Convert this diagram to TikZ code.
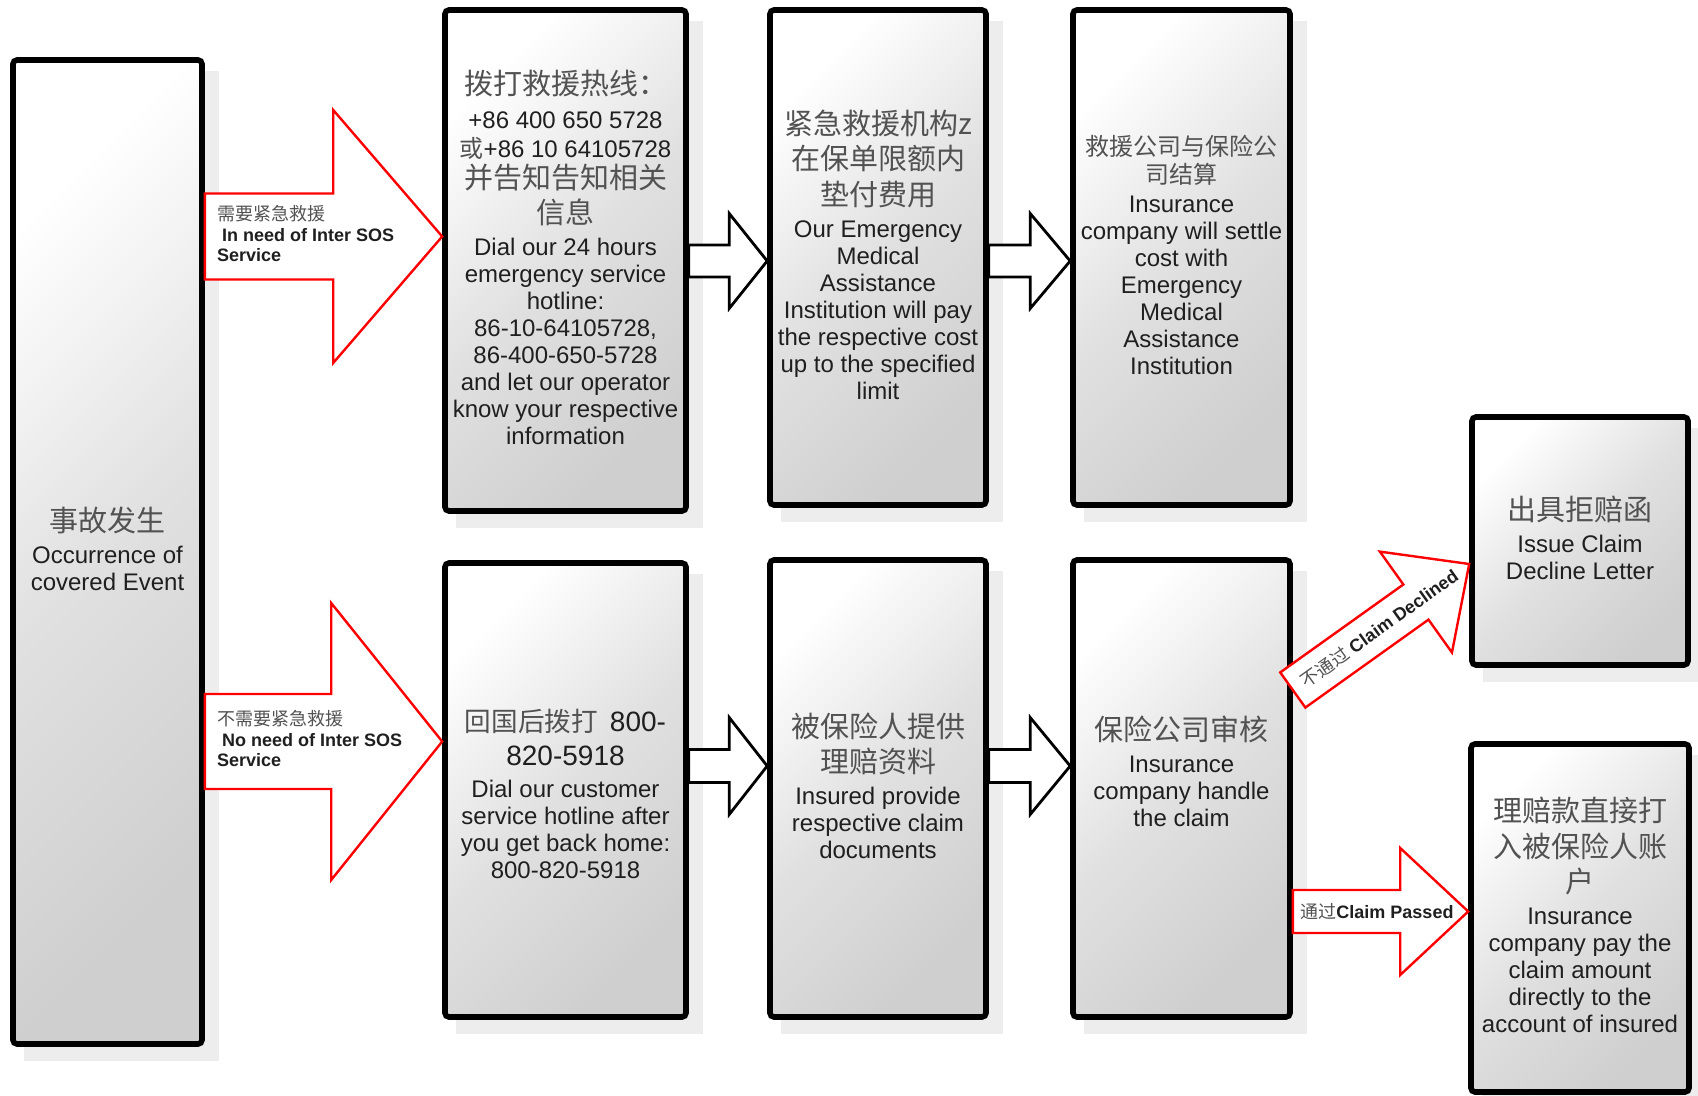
\documentclass[tikz,border=0pt]{standalone}
\usepackage{fontspec}
\setmainfont{Liberation Sans}
\newfontfamily\cjk{Noto Sans CJK SC}
\usetikzlibrary{calc,backgrounds}

\definecolor{zhc}{gray}{0.32}
\definecolor{enc}{gray}{0.12}
\definecolor{shc}{gray}{0.93}

\newcommand\stk[1]{\vbox{\offinterlineskip\halign{\hfil##\hfil\cr#1\crcr}}}
\newcommand\lstk[1]{\vbox{\offinterlineskip\halign{##\hfil\cr#1\crcr}}}
\newcommand\Zl[1]{\vrule height 11.5pt depth 5.5pt width 0pt{\cjk\fontsize{14.5}{17}\selectfont\color{zhc}#1}}
\newcommand\Zd[1]{\vrule height 10pt depth 4pt width 0pt{\cjk\fontsize{12}{14}\selectfont\color{zhc}#1}}
\newcommand\Zx[1]{\vrule height 11.5pt depth 5.5pt width 0pt{\fontsize{14}{16}\selectfont\color{enc}#1}}
\newcommand\El[1]{\vrule height 10.5pt depth 3pt width 0pt{\fontsize{12}{13.5}\selectfont\color{enc}#1}}
\newcommand\Pl[1]{\vrule height 11.3pt depth 3.3pt width 0pt{\fontsize{12}{13.5}\selectfont\color{enc}#1}}
\newcommand\Rz[1]{\vrule height 7.3pt depth 3pt width 0pt{\cjk\fontsize{9}{10}\selectfont\color{zhc}#1}}
\newcommand\Rb[1]{\vrule height 7.3pt depth 3pt width 0pt{\fontsize{9}{10}\selectfont\bfseries\color{enc}#1}}

% block arrow: style, tail, tip, shaft half width, head half width, head length
\newcommand\barrow[6]{%
  \coordinate (bh) at ($(#3)!#6!(#2)$);
  \draw[#1] ($(#2)!#4!90:(#3)$) -- ($(bh)!#4!90:(#3)$) -- ($(bh)!#5!90:(#3)$) -- (#3)
    -- ($(bh)!#5!-90:(#3)$) -- ($(bh)!#4!-90:(#3)$) -- ($(#2)!#4!-90:(#3)$) -- cycle;}

\tikzset{
  box/.style={draw=black, line width=2.8pt, rounded corners=2pt, inner sep=0pt,
    top color=white, bottom color=black!19, middle color=black!12, shading angle=45},
  redarrow/.style={draw=red, fill=white, line width=1.2pt, line join=miter},
  blackarrow/.style={draw=black, fill=white, line width=1.4pt, line join=miter},
  lbl/.style={inner sep=0pt}
}

\begin{document}
\begin{tikzpicture}[x=0.5pt, y=-0.5pt]
\useasboundingbox (0,0) rectangle (1698,1096);

\node[box, minimum width=94.5pt, minimum height=492pt] (A) at (107.5,552)
  {\stk{\Zl{事故发生}\cr\El{Occurrence of}\cr\El{covered Event}}};

\node[box, minimum width=120.5pt, minimum height=250.5pt] (B) at (565.5,260.5)
  {\stk{\Zl{拨打救援热线：}\cr
        \Pl{+86 400 650 5728}\cr
        \Pl{{\cjk\color{zhc}或}+86 10 64105728}\cr
        \Zl{并告知告知相关}\cr
        \Zl{信息}\cr
        \El{Dial our 24 hours}\cr
        \El{emergency service}\cr
        \El{hotline:}\cr
        \El{86-10-64105728,}\cr
        \El{86-400-650-5728}\cr
        \El{and let our operator}\cr
        \El{know your respective}\cr
        \El{information}}};

\node[box, minimum width=108pt, minimum height=247.5pt] (C) at (878,257.5)
  {\stk{\Zl{紧急救援机构z}\cr\Zl{在保单限额内}\cr\Zl{垫付费用}\cr
        \El{Our Emergency}\cr\El{Medical}\cr\El{Assistance}\cr
        \El{Institution will pay}\cr\El{the respective cost}\cr
        \El{up to the specified}\cr\El{limit}}};

\node[box, minimum width=108.5pt, minimum height=247.5pt] (D) at (1181.5,257.5)
  {\stk{\Zd{救援公司与保险公}\cr\Zd{司结算}\cr
        \El{Insurance}\cr\El{company will settle}\cr\El{cost with}\cr
        \El{Emergency}\cr\El{Medical}\cr\El{Assistance}\cr\El{Institution}}};

\node[box, minimum width=120.5pt, minimum height=227pt] (E) at (565.5,790)
  {\stk{\vrule height 6pt width 0pt\cr
        \Zx{{\cjk\fontsize{13.3}{16}\selectfont\color{zhc}回国后拨打}\hspace{6pt}800-}\cr
        \Zx{820-5918}\cr
        \El{Dial our customer}\cr\El{service hotline after}\cr
        \El{you get back home:}\cr\El{800-820-5918}}};

\node[box, minimum width=108pt, minimum height=228.5pt] (F) at (878,788.5)
  {\stk{\Zl{被保险人提供}\cr\Zl{理赔资料}\cr
        \El{Insured provide}\cr\El{respective claim}\cr\El{documents}}};

\node[box, minimum width=108.5pt, minimum height=228.5pt] (G) at (1181.5,788.5)
  {\stk{\Zl{保险公司审核}\cr\El{Insurance}\cr\El{company handle}\cr\El{the claim}\cr
        \vrule height 14.5pt width 0pt}};

\node[box, minimum width=108pt, minimum height=124pt] (H) at (1580,541)
  {\stk{\Zl{出具拒赔函}\cr\El{Issue Claim}\cr\El{Decline Letter}}};

\node[box, minimum width=109pt, minimum height=174pt] (I) at (1580,918)
  {\stk{\Zl{理赔款直接打}\cr\Zl{入被保险人账}\cr\Zl{户}\cr
        \El{Insurance}\cr\El{company pay the}\cr\El{claim amount}\cr
        \El{directly to the}\cr\El{account of insured}}};

% connector end points
\coordinate (r1t) at (A.east |- 0,236.5);
\coordinate (r1p) at (B.west |- 0,236.5);
\coordinate (r2t) at (A.east |- 0,741.5);
\coordinate (r2p) at (E.west |- 0,741.5);
\coordinate (k1t) at (B.east |- 0,261);
\coordinate (k1p) at (C.west |- 0,261);
\coordinate (k2t) at (C.east |- 0,261);
\coordinate (k2p) at (D.west |- 0,261);
\coordinate (k3t) at (E.east |- 0,766);
\coordinate (k3p) at (F.west |- 0,766);
\coordinate (k4t) at (F.east |- 0,766);
\coordinate (k4p) at (G.west |- 0,766);
\coordinate (pt) at (G.east |- 0,911.5);
\coordinate (pp) at (I.west |- 0,911.5);
\coordinate (dt) at (G.east |- 0,690);
\coordinate (dp) at (H.west |- 0,564);

\begin{pgfonlayer}{background}
  \foreach \n in {A,B,C,D,E,F,G,H,I}
    \fill[shc] ($(\n.south west)+(14,14)$) rectangle ($(\n.north east)+(14,14)$);
  \barrow{blackarrow}{k1t}{k1p}{8pt}{23.75pt}{19pt}
  \barrow{blackarrow}{k2t}{k2p}{8pt}{23.75pt}{20pt}
  \barrow{blackarrow}{k3t}{k3p}{8.25pt}{24.25pt}{19pt}
  \barrow{blackarrow}{k4t}{k4p}{8.25pt}{24.25pt}{20pt}
\end{pgfonlayer}

% red arrows
\barrow{redarrow}{r1t}{r1p}{21.5pt}{63.25pt}{54.5pt}
\barrow{redarrow}{r2t}{r2p}{23.75pt}{69.25pt}{55.5pt}
\barrow{redarrow}{pt}{pp}{10.75pt}{31.75pt}{34pt}
\barrow{redarrow}{dt}{dp}{10.8pt}{31pt}{32.75pt}

\node[lbl, anchor=west] (l1) at ($(r1t)+(12,0)$)
  {\lstk{\Rz{需要紧急救援}\cr\Rb{\hspace{2.5pt}In need of Inter SOS}\cr\Rb{Service}}};
\node[lbl, anchor=west] (l2) at ($(r2t)+(12,0)$)
  {\lstk{\Rz{不需要紧急救援}\cr\Rb{\hspace{2.5pt}No need of Inter SOS}\cr\Rb{Service}}};
\path (pt) -- node[lbl, pos=0.48] (l3)
  {\fontsize{9}{10}\selectfont{\cjk\color{zhc}通过}{\bfseries\color{enc}Claim Passed}} (pp);
\path (dt) -- node[lbl, pos=0.49, sloped] (l4)
  {\fontsize{9}{10}\selectfont{\cjk\color{zhc}不通过} {\bfseries\color{enc}Claim Declined}} (dp);
\end{tikzpicture}
\end{document}
